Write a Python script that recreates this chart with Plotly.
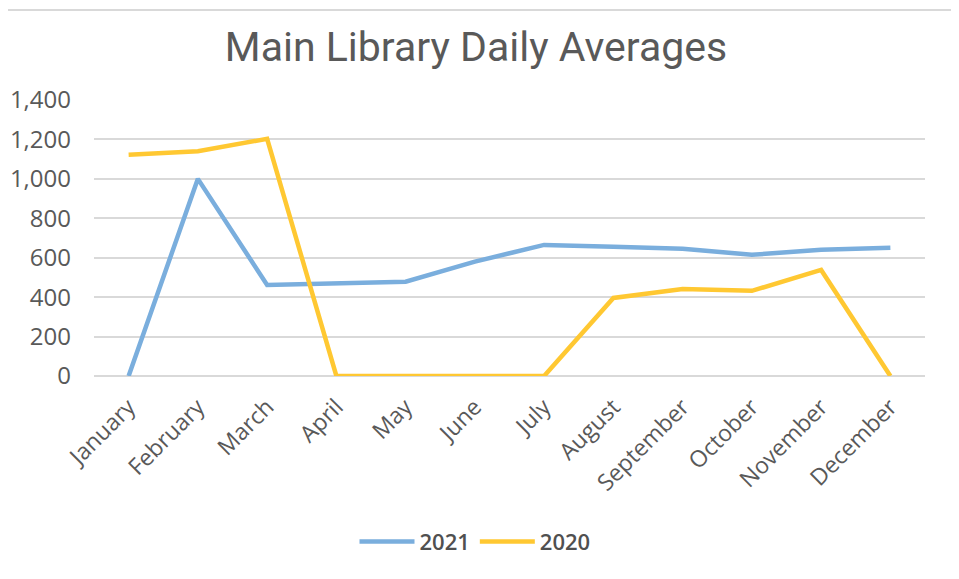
import plotly.graph_objects as go

months = ["January", "February", "March", "April", "May", "June", "July",
          "August", "September", "October", "November", "December"]
avg_2021 = [0, 1000, 462, 468, 478, 580, 665, 655, 645, 615, 640, 650]
avg_2020 = [1122, 1140, 1203, 0, 0, 0, 0, 396, 441, 432, 538, 0]

text_grey = "#595959"

fig = go.Figure()
fig.add_trace(go.Scatter(x=months, y=avg_2021, name="2021", mode="lines",
                         line=dict(color="#7AAEDD", width=4.5)))
fig.add_trace(go.Scatter(x=months, y=avg_2020, name="2020", mode="lines",
                         line=dict(color="#FFC832", width=4.5)))

# the page body has an 8px default margin, so margins are shifted by 8
fig.update_layout(
    width=959, height=579,
    margin=dict(l=86, r=42, t=92, b=211, autoexpand=False),
    paper_bgcolor="white", plot_bgcolor="white",
    font=dict(family="Open Sans", color=text_grey, size=20),
    title=dict(text="Main Library Daily Averages", x=(476 - 94) / 831, xref="paper",
               xanchor="center", y=1 - 39 / 579, yanchor="middle",
               font=dict(family="Roboto", size=41, color=text_grey)),
    legend=dict(orientation="h", x=(475 - 94) / 831, xanchor="center", y=-0.6,
                yanchor="middle", font=dict(size=22, color="#505050", weight=600),
                itemwidth=55),
    showlegend=True,
)
fig.update_xaxes(range=[-0.5, 11.5], tickangle=-45, showgrid=False, showline=False,
                 ticks="", automargin=False, ticklabelstandoff=12,
                 tickfont=dict(size=23, color=text_grey))
fig.update_yaxes(range=[0, 1400], dtick=200, tickformat=",", gridcolor="#D9D9D9",
                 gridwidth=1.5, zeroline=True, zerolinecolor="#D9D9D9", zerolinewidth=1.5,
                 showline=False, ticks="", ticklabelstandoff=22, automargin=False,
                 tickfont=dict(size=24, color=text_grey))

# light frame on the top and right of the chart (left/bottom edges fall off-page)
fig.add_shape(type="rect", xref="paper", yref="paper",
              x0=(-20 - 94) / 831, x1=(953 - 94) / 831,
              y0=(376 - 600) / 276, y1=(376 - 10) / 276,
              line=dict(color="#D9D9D9", width=2))

fig.write_html("out.html")
